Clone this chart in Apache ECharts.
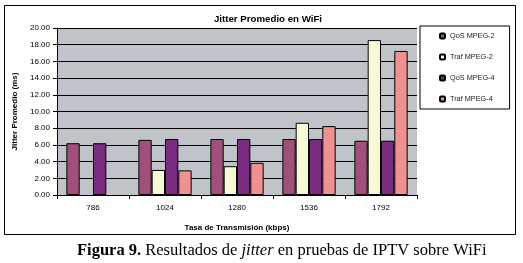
<!DOCTYPE html>
<html>
<head>
<meta charset="utf-8">
<script src="https://cdn.jsdelivr.net/npm/echarts@6/dist/echarts.min.js"></script>
<style>
  html, body { margin: 0; padding: 0; background: #fff; }
  #chart { width: 523px; height: 263px; }
</style>
</head>
<body>
<div id="chart"></div>
<script>
// tasas de transmisión (kbps)
const categories = ["786", "1024", "1280", "1536", "1792"];
const qosMpeg2 = [6.2, 6.6, 6.7, 6.7, 6.5];
const trafMpeg2 = [null, 3.0, 3.45, 8.65, 18.55];
const qosMpeg4 = [6.2, 6.7, 6.7, 6.7, 6.5];
const trafMpeg4 = [null, 2.95, 3.85, 8.25, 17.25];
const seriesNames = ["QoS MPEG-2", "Traf MPEG-2", "QoS MPEG-4", "Traf MPEG-4"];
const seriesColors = ["#a34f7b", "#f8f7d6", "#7a2d80", "#f29290"];

const chart = echarts.init(document.getElementById("chart"));

const mkBar = (name, data, color) => ({
  name: name,
  type: "bar",
  data: data,
  barGap: 0,
  barCategoryGap: "26%",
  itemStyle: {
    color: color,
    borderColor: "#000",
    borderWidth: 1,
  },
});

const option = {
  animation: false,
  backgroundColor: "#fff",
  title: {
    text: "Jitter Promedio en WiFi",
    left: 263,
    textAlign: "center",
    top: 9,
    textStyle: {
      fontFamily: "Liberation Sans",
      fontSize: 9.7,
      fontWeight: "bold",
      color: "#000",
    },
  },
  legend: {
    orient: "vertical",
    left: 420,
    top: 26,
    padding: [5, 15, 5, 19],
    itemWidth: 5,
    itemHeight: 5,
    itemGap: 11,
    borderColor: "#000",
    borderWidth: 1,
    textStyle: {
      fontFamily: "Liberation Sans",
      fontSize: 7.3,
      color: "#222",
      lineHeight: 10,
    },
    data: seriesNames,
  },
  grid: {
    left: 57,
    right: 106,
    top: 28,
    bottom: 68,
    show: true,
    backgroundColor: "#c0c4c8",
    borderWidth: 0,
  },
  xAxis: {
    type: "category",
    data: categories,
    name: "Tasa de Transmisión (kbps)",
    nameLocation: "middle",
    nameGap: 29,
    nameTextStyle: {
      fontFamily: "Liberation Sans",
      fontSize: 8,
      fontWeight: "bold",
      color: "#000",
    },
    axisLine: { lineStyle: { color: "#000", width: 1 } },
    axisTick: { show: true, length: 4, lineStyle: { color: "#000" } },
    axisLabel: {
      fontFamily: "Liberation Sans",
      fontSize: 8,
      color: "#000",
      margin: 9,
    },
  },
  yAxis: {
    type: "value",
    min: 0,
    max: 20,
    interval: 2,
    name: "Jitter Promedio (ms)",
    nameLocation: "middle",
    nameGap: 37,
    nameTextStyle: {
      fontFamily: "Liberation Sans",
      fontSize: 8,
      fontWeight: "bold",
      color: "#000",
    },
    axisLine: { show: true, lineStyle: { color: "#000", width: 1 } },
    axisTick: { show: true, length: 4, lineStyle: { color: "#000" } },
    axisLabel: {
      fontFamily: "Liberation Sans",
      fontSize: 8,
      color: "#000",
      margin: 7,
      formatter: (v) => v.toFixed(2),
    },
    splitLine: { show: true, lineStyle: { color: "#000", width: 1 } },
  },
  series: [
    mkBar(seriesNames[0], qosMpeg2, seriesColors[0]),
    mkBar(seriesNames[1], trafMpeg2, seriesColors[1]),
    mkBar(seriesNames[2], qosMpeg4, seriesColors[2]),
    mkBar(seriesNames[3], trafMpeg4, seriesColors[3]),
  ],
  graphic: [
    {
      type: "rect",
      shape: { x: 4.5, y: 5.5, width: 511, height: 229 },
      style: { fill: null, stroke: "#000", lineWidth: 1 },
      silent: true,
    },
    {
      type: "text",
      left: 77,
      top: 242,
      style: {
        text: "{b|Figura 9.} Resultados de {i|jitter} en pruebas de IPTV sobre WiFi",
        fontFamily: "Liberation Serif",
        fontSize: 16.5,
        fill: "#000",
        rich: {
          b: { fontFamily: "Liberation Serif", fontSize: 16.5, fontWeight: "bold" },
          i: { fontFamily: "Liberation Serif", fontSize: 16.5, fontStyle: "italic" },
        },
      },
    },
  ],
};

chart.setOption(option);
</script>
</body>
</html>
